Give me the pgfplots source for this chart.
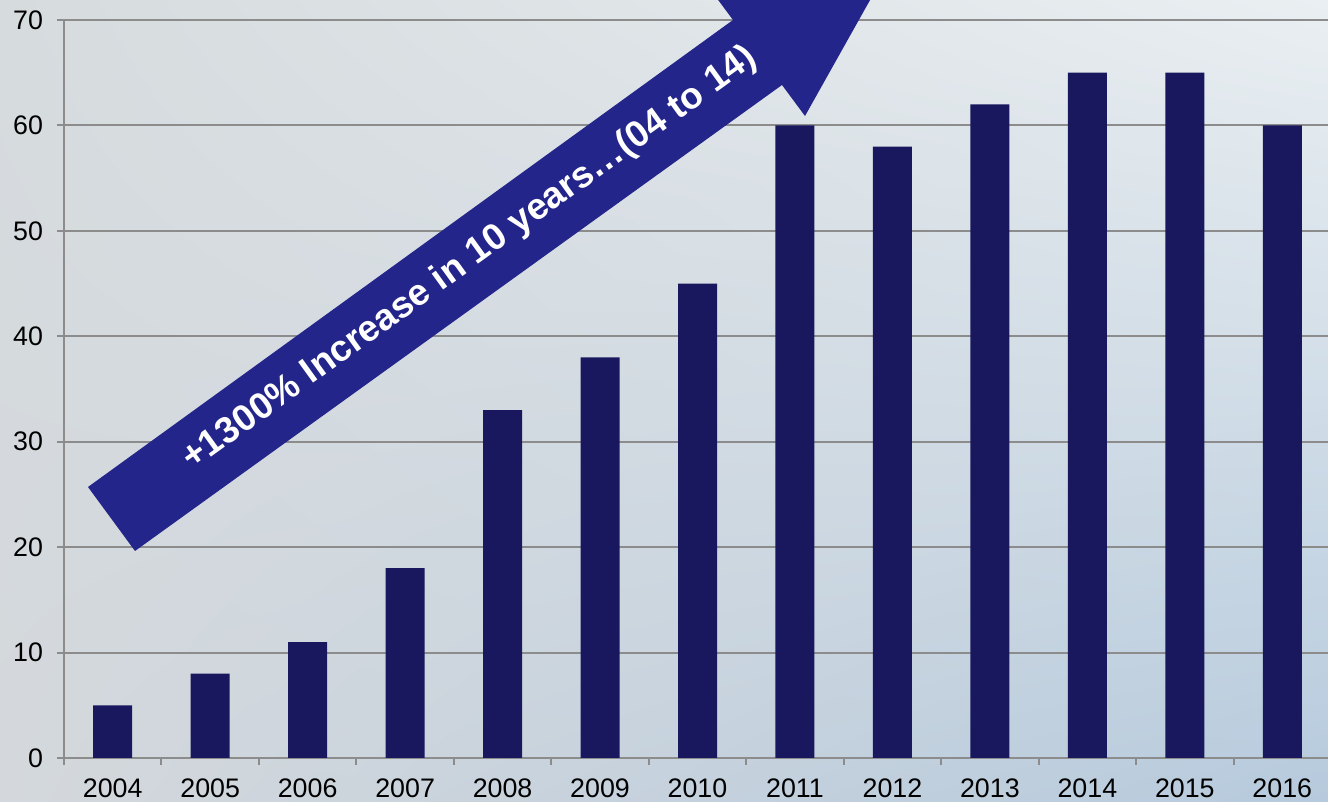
\documentclass[border=0pt]{standalone}
\usepackage{fontspec}
\setmainfont{Liberation Sans}
\usepackage{pgfplots}
\pgfplotsset{compat=1.18}
\usetikzlibrary{shadings}
\definecolor{barblue}{HTML}{19185E}
\definecolor{arrowblue}{HTML}{23258A}
\definecolor{gridgray}{HTML}{8C8C8C}
\definecolor{bgUL}{HTML}{D6DBDE}
\definecolor{bgUR}{HTML}{EAEFF2}
\definecolor{bgLL}{HTML}{D4D8DC}
\definecolor{bgLR}{HTML}{B6CADD}
\begin{document}
\begin{tikzpicture}[x=1pt,y=1pt]
\shade[upper left=bgUL, upper right=bgUR, lower left=bgLL, lower right=bgLR] (0,0) rectangle (664,401);
\begin{axis}[
  at={(32pt,22pt)}, anchor=south west,
  scale only axis, width=633.5pt, height=369pt,
  xmin=-0.5, xmax=12.5, ymin=0, ymax=70,
  axis x line=bottom, axis y line=left,
  axis line style={draw=gridgray, line width=1pt, -},
  ytick={0,10,...,70},
  ymajorgrids, grid style={gridgray, line width=1pt},
  xtick={0,...,12},
  xticklabels={2004,2005,2006,2007,2008,2009,2010,2011,2012,2013,2014,2015,2016},
  major x tick style={draw=none},
  minor xtick={-0.5,0.5,...,12.5},
  tick align=outside, major tick length=3.5pt, minor tick length=3.5pt,
  tick style={gridgray, line width=1pt},
  ticklabel style={font=\fontsize{13.4}{16}\selectfont},
  yticklabel style={xshift=-3.5pt},
  xticklabel style={yshift=-3.5pt},
  /pgf/number format/assume math mode=true,
  ybar, bar width=19.5pt,
]
\addplot[fill=barblue, draw=none] coordinates {
(0,5) (1,8) (2,11) (3,18) (4,33) (5,38) (6,45) (7,60) (8,58) (9,62) (10,65) (11,65) (12,60)
};
\end{axis}
\fill[arrowblue] (44,157.5) -- (67.5,125.5) -- (391,358.5) -- (402.5,343) -- (448.5,425) -- (355,406.5) -- (366.5,391) -- cycle;
\node[rotate=35.8, text=white, font=\bfseries\fontsize{18.5}{22}\selectfont] at (235,271.5) {+1300\% Increase in 10 years…(04 to 14)};
\pgfresetboundingbox
\useasboundingbox (0,0) rectangle (664,401);
\end{tikzpicture}
\end{document}
